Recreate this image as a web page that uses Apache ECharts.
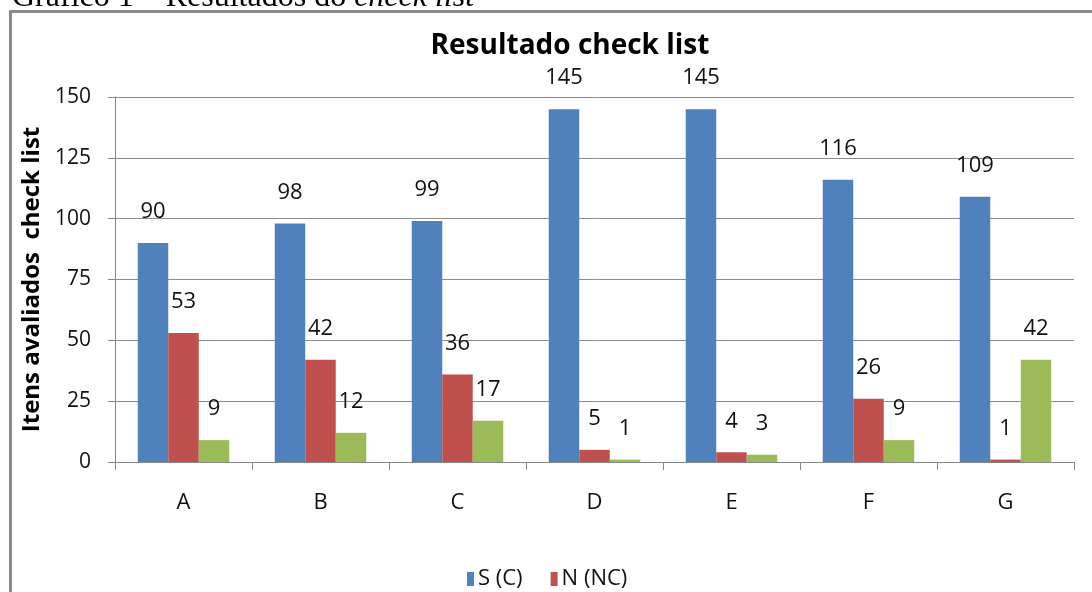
<!DOCTYPE html>
<html>
<head>
<meta charset="utf-8">
<script src="https://cdn.jsdelivr.net/npm/echarts@6/dist/echarts.min.js"></script>
<style>
  html, body { margin: 0; padding: 0; background: #fff; }
  #chart { width: 1092px; height: 592px; }
</style>
</head>
<body>
<div id="chart"></div>
<script>
  // categorias e valores
  const categorias = ['A', 'B', 'C', 'D', 'E', 'F', 'G']
  const valoresS = [90, 98, 99, 145, 145, 116, 109]
  const valoresN = [53, 42, 36, 5, 4, 26, 1]
  const valoresNA = [9, 12, 17, 1, 3, 9, 42]
  const nomesSeries = ['S (C)', 'N (NC)', 'NA']
  const coresSeries = ['#4F81BD', '#C0504D', '#9BBB59']

  const fonte = '"Open Sans", sans-serif'

  const chart = echarts.init(document.getElementById('chart'))

  const serie = (i, data) => ({
    name: nomesSeries[i],
    type: 'bar',
    data: data,
    barWidth: 30.5,
    barGap: '0%',
    itemStyle: { color: coresSeries[i] },
    label: {
      show: true,
      position: 'top',
      distance: 20,
      fontFamily: fonte,
      fontSize: 22,
      color: '#111',
    },
  })

  const option = {
    animation: false,
    backgroundColor: '#fff',
    title: {
      text: 'Resultado check list',
      left: 565,
      top: 27,
      textAlign: 'center',
      textStyle: { fontFamily: fonte, fontSize: 28, fontWeight: 'bold', color: '#000' },
    },
    legend: {
      data: ['S (C)', 'N (NC)'],
      left: 462,
      top: 563,
      itemWidth: 7,
      itemHeight: 14,
      itemGap: 28,
      icon: 'rect',
      textStyle: { fontFamily: fonte, fontSize: 22, color: '#111', padding: [0, 0, 0, -1] },
    },
    grid: { left: 115, right: 18, top: 97, bottom: 130 },
    xAxis: {
      type: 'category',
      data: categorias,
      axisLine: { lineStyle: { color: '#868686', width: 1 } },
      axisTick: { show: true, length: 8, lineStyle: { color: '#868686' } },
      axisLabel: { margin: 30, fontFamily: fonte, fontSize: 22, color: '#111' },
    },
    yAxis: {
      type: 'value',
      min: 0,
      max: 150,
      interval: 25,
      name: 'Itens avaliados  check list',
      nameLocation: 'middle',
      nameGap: 70,
      nameTextStyle: { fontFamily: fonte, fontSize: 24, fontWeight: 'bold', color: '#000' },
      axisLine: { show: true, lineStyle: { color: '#868686', width: 1 } },
      axisTick: { show: true, length: 7, lineStyle: { color: '#868686' } },
      axisLabel: { margin: 24, fontFamily: fonte, fontSize: 21, color: '#111' },
      splitLine: { lineStyle: { color: '#8c8c8c', width: 1 } },
    },
    graphic: [
      {
        type: 'rect',
        z: -1,
        shape: { x: 10.5, y: 11.5, width: 1200, height: 800 },
        style: { fill: 'none', stroke: '#8a8a8a', lineWidth: 3 },
      },
      {
        type: 'text',
        x: 12,
        y: 14,
        style: {
          text: 'Gráfico 1 – Resultados do {i|check list}',
          fontFamily: '"Liberation Serif", "Times New Roman", serif',
          fontSize: 32,
          lineHeight: 32,
          verticalAlign: 'bottom',
          fill: '#000',
          rich: { i: { fontStyle: 'italic', fontFamily: '"Liberation Serif", serif', fontSize: 32, lineHeight: 32 } },
        },
      },
    ],
    series: [serie(0, valoresS), serie(1, valoresN), serie(2, valoresNA)],
  }

  chart.setOption(option)
  window.addEventListener('resize', () => chart.resize())
</script>
</body>
</html>
